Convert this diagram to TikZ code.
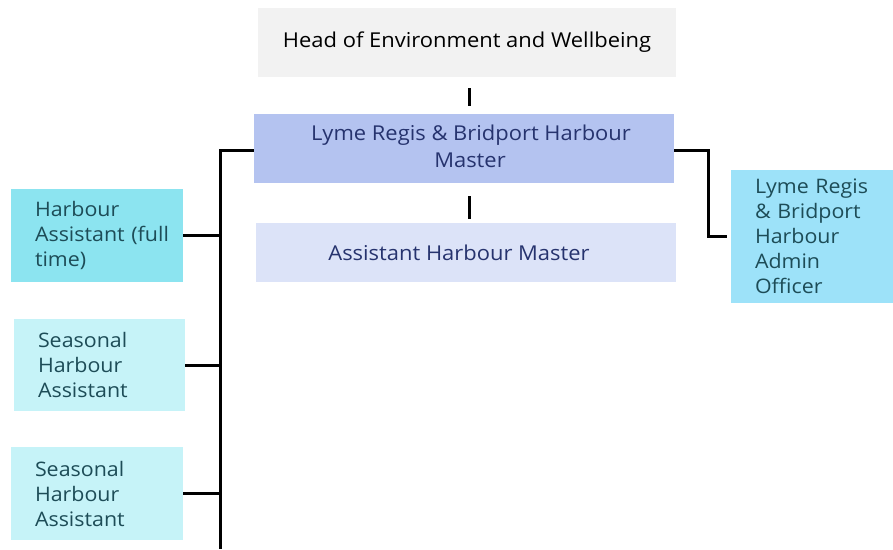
\documentclass[tikz,border=0pt]{standalone}
\usepackage{fontspec}
\setmainfont{Open Sans}[FakeStretch=1.07]
\usetikzlibrary{positioning}
\definecolor{headfill}{HTML}{F2F2F2}
\definecolor{hmfill}{HTML}{B4C3F0}
\definecolor{ahmfill}{HTML}{DCE3F8}
\definecolor{ftfill}{HTML}{8CE4F0}
\definecolor{seasfill}{HTML}{C6F3F8}
\definecolor{adminfill}{HTML}{9DE2F9}
\definecolor{navytext}{HTML}{26336E}
\definecolor{tealtext}{HTML}{1D4C57}
\begin{document}
\begin{tikzpicture}[x=1pt,y=-1pt,
    post/.style={rectangle,inner sep=0pt,align=center,font=\fontsize{20.5}{27}\selectfont},
    sidepost/.style={rectangle,inner ysep=0pt,inner xsep=24pt,align=left,font=\fontsize{20}{25}\selectfont,text=tealtext},
    link/.style={line width=3pt,black}]
  \useasboundingbox (0,0) rectangle (893,549);
  % top column
  \node[post,fill=headfill,minimum width=418pt,minimum height=69pt] (head) at (467,42.5) {Head of Environment and Wellbeing};
  \node[post,fill=hmfill,text=navytext,minimum width=420pt,minimum height=69pt] (hm) at (464,148.5) {\raisebox{4pt}{\begin{tabular}{@{}c@{}}\hspace*{14pt}Lyme Regis \& Bridport Harbour\\\hspace*{12pt}Master\end{tabular}}};
  \node[post,fill=ahmfill,text=navytext,minimum width=420pt,minimum height=59pt] (ahm) at (466,252.5) {\hspace*{-14pt}Assistant Harbour Master};
  % left column
  \node[sidepost,fill=ftfill,minimum width=172pt,minimum height=93pt,text width=124pt] (fta) at (97,235.5) {Harbour\\Assistant~(full\\time)};
  \node[sidepost,fill=seasfill,minimum width=171pt,minimum height=92pt,text width=123pt] (sha) at (99.5,365) {Seasonal\\Harbour\\Assistant};
  \node[sidepost,fill=seasfill,minimum width=172pt,minimum height=93pt,text width=124pt] (shb) at (97,493.5) {Seasonal\\Harbour\\Assistant};
  % right
  \node[sidepost,fill=adminfill,minimum width=162pt,minimum height=133pt,text width=114pt] (admin) at (812,236.5) {Lyme Regis\\\& Bridport\\Harbour\\Admin\\Officer};
  \coordinate (trunktop) at (220,150);
  \coordinate (trunkbot) at (220,549);
  % connectors
  \draw[link,shorten <=11pt,shorten >=8pt] (head.south -| 469,0) -- (hm.north -| 469,0);
  \draw[link,shorten <=13pt,shorten >=4pt] (hm.south -| 469,0) -- (ahm.north -| 469,0);
  \draw[link] (hm.west |- trunktop) -- (trunktop) -- (trunkbot);
  \draw[link] (fta.east) -- (fta.east -| trunktop);
  \draw[link] (sha.east) -- (sha.east -| trunktop);
  \draw[link] (shb.east) -- (shb.east -| trunktop);
  \draw[link] (hm.east |- trunktop) -- ++(34,0) |- ([xshift=-4pt]admin.west);
\end{tikzpicture}
\end{document}
